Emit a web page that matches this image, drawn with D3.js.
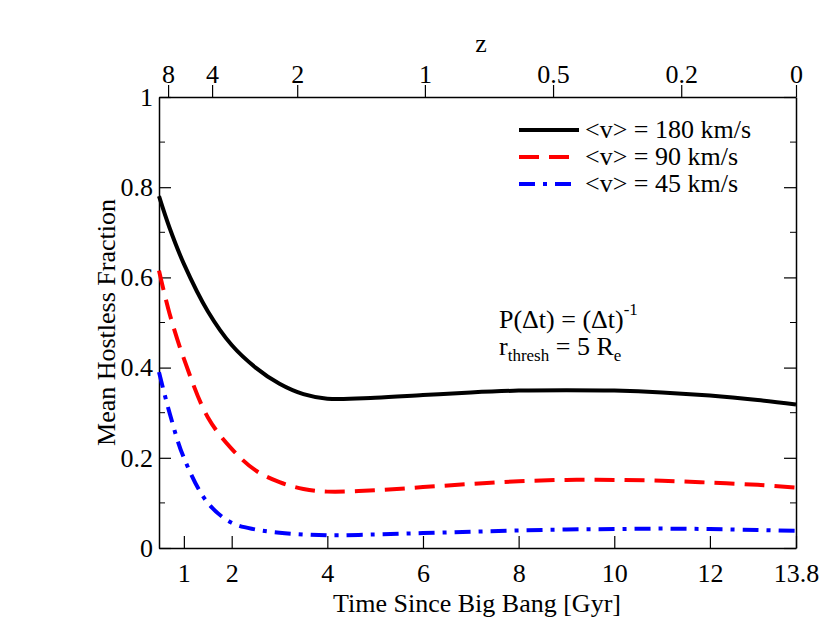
<!DOCTYPE html>
<html><head><meta charset="utf-8">
<script src="https://cdn.jsdelivr.net/npm/d3@7"></script>
<style>body{margin:0;background:#fff}text{font-family:"Liberation Serif",serif}</style>
</head><body><div id="wrapper"></div>
<script>
const times = [0.48, 0.7, 1, 1.5, 2, 2.5, 3, 3.5, 4, 5, 6, 7, 8, 9, 10, 11, 12, 13, 13.8];
const v180 = [0.78, 0.71, 0.63, 0.525, 0.45, 0.40, 0.364, 0.341, 0.331, 0.333, 0.339, 0.345, 0.349, 0.35, 0.349, 0.345, 0.338, 0.328, 0.318];
const v90 = [0.615, 0.52, 0.42, 0.29, 0.22, 0.172, 0.146, 0.131, 0.125, 0.128, 0.135, 0.142, 0.148, 0.151, 0.151, 0.149, 0.145, 0.14, 0.134];
const v45 = [0.39, 0.3, 0.2, 0.1, 0.056, 0.041, 0.034, 0.03, 0.028, 0.03, 0.033, 0.036, 0.039, 0.041, 0.042, 0.043, 0.042, 0.04, 0.038];
const bottomTicks = [1, 2, 4, 6, 8, 10, 12, 13.8];
const zLabels = ["8", "4", "2", "1", "0.5", "0.2", "0"];
const zTimes = [0.67, 1.59, 3.37, 6.04, 8.72, 11.4, 13.8];
const yTicks = [0, 0.2, 0.4, 0.6, 0.8, 1];
const legendLabels = ["<v> = 180 km/s", "<v> = 90 km/s", "<v> = 45 km/s"];

const width = 830, height = 642;
const m = {left: 159, right: 34, top: 97, bottom: 94};
const fs = "26px";
const svg = d3.select("#wrapper").append("svg").attr("width", width).attr("height", height);

const x = d3.scaleLinear().domain([0.48, 13.8]).range([m.left, width - m.right]);
const y = d3.scaleLinear().domain([0, 1]).range([height - m.bottom, m.top]);

const styleAxis = g => {
  g.attr("font-size", null).attr("font-family", null);
  g.select(".domain").attr("stroke", "#000").attr("stroke-width", 1.5);
  g.selectAll(".tick line").attr("stroke", "#000").attr("stroke-width", 1.2);
  g.selectAll("text").style("font-family", "Liberation Serif").style("font-size", fs).attr("fill", "#000");
};

svg.append("g").attr("transform", `translate(0,${y(0)})`)
  .call(d3.axisBottom(x).tickValues(bottomTicks).tickFormat(d3.format("")).tickSizeInner(-12).tickSizeOuter(0).tickPadding(16))
  .call(styleAxis);
svg.append("g").attr("transform", `translate(0,${y(1)})`)
  .call(d3.axisTop(x).tickValues(zTimes).tickFormat((d, i) => zLabels[i]).tickSizeInner(12).tickSizeOuter(0).tickPadding(2))
  .call(styleAxis);
svg.append("g").attr("transform", `translate(${x.range()[0]},0)`)
  .call(d3.axisLeft(y).tickValues(yTicks).tickFormat(d3.format("")).tickSizeInner(-12).tickSizeOuter(0).tickPadding(6))
  .call(styleAxis);
svg.append("g").attr("transform", `translate(${x.range()[1]},0)`)
  .call(d3.axisRight(y).tickValues(yTicks).tickFormat("").tickSizeInner(-12).tickSizeOuter(0))
  .call(styleAxis);
// minor y ticks
const minor = d3.range(0.1, 1, 0.2);
svg.selectAll(".minorL").data(minor).join("line")
  .attr("x1", x.range()[0]).attr("x2", x.range()[0] + 6).attr("y1", d => y(d)).attr("y2", d => y(d)).attr("stroke", "#000");
svg.selectAll(".minorR").data(minor).join("line")
  .attr("x1", x.range()[1]).attr("x2", x.range()[1] - 6).attr("y1", d => y(d)).attr("y2", d => y(d)).attr("stroke", "#000");

svg.append("text").attr("x", 477).attr("y", 612).attr("text-anchor", "middle")
  .style("font-size", fs).text("Time Since Big Bang [Gyr]");
svg.append("text").attr("x", 481).attr("y", 52).attr("text-anchor", "middle").style("font-size", fs).text("z");
svg.append("text").attr("transform", `translate(115,${(m.top + height - m.bottom) / 2}) rotate(-90)`)
  .attr("text-anchor", "middle").style("font-size", fs).text("Mean Hostless Fraction");

const series = [
  {vals: v180, color: "#000", dash: null},
  {vals: v90, color: "#f00", dash: "20,10"},
  {vals: v45, color: "#00f", dash: "16,8,4,8"}
];
const line = d3.line().curve(d3.curveCatmullRom.alpha(0.5));
series.forEach((s, i) => {
  svg.append("path").attr("d", line(times.map((t, j) => [x(t), y(s.vals[j])])))
    .attr("fill", "none").attr("stroke", s.color).attr("stroke-width", 4)
    .attr("stroke-dasharray", s.dash);
  const ly = 130 + i * 27;
  svg.append("line").attr("x1", 519).attr("x2", 579).attr("y1", ly).attr("y2", ly)
    .attr("stroke", s.color).attr("stroke-width", 4).attr("stroke-dasharray", s.dash);
  svg.append("text").attr("x", 585).attr("y", ly + 8).style("font-size", fs).text(legendLabels[i]);
});

const ann = svg.append("g").style("font-size", fs);
const t1 = ann.append("text").attr("x", 499).attr("y", 328);
t1.append("tspan").text("P(Δt) = (Δt)");
t1.append("tspan").attr("dy", -13).style("font-size", "17px").text("-1");
const t2 = ann.append("text").attr("x", 499).attr("y", 355);
t2.append("tspan").text("r");
t2.append("tspan").attr("dy", 6).style("font-size", "17px").text("thresh");
t2.append("tspan").attr("dy", -6).text(" = 5 R");
t2.append("tspan").attr("dy", 6).style("font-size", "17px").text("e");
</script></body></html>
